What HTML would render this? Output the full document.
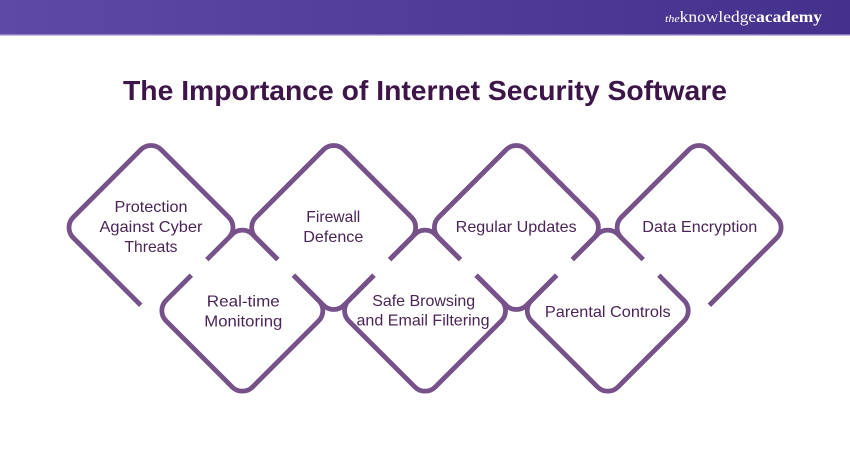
<!DOCTYPE html>
<html>
<head>
<meta charset="utf-8">
<style>
  html, body { margin: 0; padding: 0; background: #ffffff; }
  body { width: 850px; height: 450px; overflow: hidden; }
  svg { display: block; }
</style>
</head>
<body>
<svg width="850" height="450" viewBox="0 0 850 450" xmlns="http://www.w3.org/2000/svg">
  <defs>
    <linearGradient id="hdr" x1="0" y1="0" x2="1" y2="0">
      <stop offset="0" stop-color="#5e49a6"/>
      <stop offset="1" stop-color="#44318c"/>
    </linearGradient>
  </defs>
  <rect x="0" y="0" width="850" height="450" fill="#ffffff"/>
  <!-- header -->
  <rect x="0" y="0" width="850" height="35" fill="url(#hdr)"/>
  <rect x="0" y="34.5" width="850" height="1.5" fill="#c3bbdd"/>
  <text x="665" y="22" fill="#ffffff" font-family="'Liberation Serif', serif" textLength="157" lengthAdjust="spacingAndGlyphs"><tspan font-style="italic" font-size="11">the</tspan><tspan font-size="16">knowledge</tspan><tspan font-size="16" font-weight="bold">academy</tspan></text>

  <!-- title -->
  <text x="425" y="100" text-anchor="middle" fill="#3d1548" font-family="'Liberation Sans', sans-serif" font-weight="bold" font-size="28" textLength="604" lengthAdjust="spacingAndGlyphs">The Importance of Internet Security Software</text>

  <!-- diamonds -->
  <g fill="none" stroke="#77518a" stroke-width="4.8" stroke-linecap="butt" stroke-linejoin="round">
    <!-- P (open, no bottom arc) -->
    <path transform="translate(151,227.5)" d="M -10.25 77.75 L -77.75 10.25 A 14.5 14.5 0 0 1 -77.75 -10.25 L -10.25 -77.75 A 14.5 14.5 0 0 1 10.25 -77.75 L 77.75 -10.25 A 14.5 14.5 0 0 1 77.75 10.25"/>
    <!-- F -->
    <path transform="translate(333.7,227.5)" d="M -10.25 -77.75 A 14.5 14.5 0 0 1 10.25 -77.75 L 77.75 -10.25 A 14.5 14.5 0 0 1 77.75 10.25 L 10.25 77.75 A 14.5 14.5 0 0 1 -10.25 77.75 L -77.75 10.25 A 14.5 14.5 0 0 1 -77.75 -10.25 Z"/>
    <!-- R -->
    <path transform="translate(516.4,227.5)" d="M -10.25 -77.75 A 14.5 14.5 0 0 1 10.25 -77.75 L 77.75 -10.25 A 14.5 14.5 0 0 1 77.75 10.25 L 10.25 77.75 A 14.5 14.5 0 0 1 -10.25 77.75 L -77.75 10.25 A 14.5 14.5 0 0 1 -77.75 -10.25 Z"/>
    <!-- D (open, no bottom arc) -->
    <path transform="translate(699.1,227.5)" d="M -77.75 10.25 A 14.5 14.5 0 0 1 -77.75 -10.25 L -10.25 -77.75 A 14.5 14.5 0 0 1 10.25 -77.75 L 77.75 -10.25 A 14.5 14.5 0 0 1 77.75 10.25 L 10.25 77.75"/>
    <!-- RT -->
    <path transform="translate(242.35,310.65)" d="M -10.25 -76.25 A 14.5 14.5 0 0 1 10.25 -76.25 L 76.25 -10.25 A 14.5 14.5 0 0 1 76.25 10.25 L 10.25 76.25 A 14.5 14.5 0 0 1 -10.25 76.25 L -76.25 10.25 A 14.5 14.5 0 0 1 -76.25 -10.25 Z"/>
    <!-- SB -->
    <path transform="translate(425.05,310.65)" d="M -10.25 -76.25 A 14.5 14.5 0 0 1 10.25 -76.25 L 76.25 -10.25 A 14.5 14.5 0 0 1 76.25 10.25 L 10.25 76.25 A 14.5 14.5 0 0 1 -10.25 76.25 L -76.25 10.25 A 14.5 14.5 0 0 1 -76.25 -10.25 Z"/>
    <!-- PC -->
    <path transform="translate(607.75,310.65)" d="M -10.25 -76.25 A 14.5 14.5 0 0 1 10.25 -76.25 L 76.25 -10.25 A 14.5 14.5 0 0 1 76.25 10.25 L 10.25 76.25 A 14.5 14.5 0 0 1 -10.25 76.25 L -76.25 10.25 A 14.5 14.5 0 0 1 -76.25 -10.25 Z"/>
  </g>

  <!-- gaps on shared edges -->
  <g stroke="#ffffff" stroke-width="10" stroke-linecap="butt">
    <line x1="191.32" y1="275.18" x2="206.88" y2="259.62"/>
    <line x1="277.82" y1="259.62" x2="293.38" y2="275.18"/>
    <line x1="374.02" y1="275.18" x2="389.58" y2="259.62"/>
    <line x1="460.52" y1="259.62" x2="476.08" y2="275.18"/>
    <line x1="556.72" y1="275.18" x2="572.28" y2="259.62"/>
    <line x1="643.22" y1="259.62" x2="658.78" y2="275.18"/>
  </g>

  <!-- labels -->
  <g fill="#4a2456" font-family="'Liberation Sans', sans-serif" font-size="16" text-anchor="middle">
    <text x="151" y="212" textLength="73" lengthAdjust="spacingAndGlyphs">Protection</text>
    <text x="151" y="232" textLength="103" lengthAdjust="spacingAndGlyphs">Against Cyber</text>
    <text x="151" y="252" textLength="53" lengthAdjust="spacingAndGlyphs">Threats</text>

    <text x="333.3" y="222" textLength="54" lengthAdjust="spacingAndGlyphs">Firewall</text>
    <text x="333.3" y="242" textLength="60" lengthAdjust="spacingAndGlyphs">Defence</text>

    <text x="516.2" y="232" textLength="121" lengthAdjust="spacingAndGlyphs">Regular Updates</text>

    <text x="699.8" y="232" textLength="115" lengthAdjust="spacingAndGlyphs">Data Encryption</text>

    <text x="243.3" y="306.5" textLength="73" lengthAdjust="spacingAndGlyphs">Real-time</text>
    <text x="243.3" y="326.5" textLength="78" lengthAdjust="spacingAndGlyphs">Monitoring</text>

    <text x="423.7" y="306" textLength="103" lengthAdjust="spacingAndGlyphs">Safe Browsing</text>
    <text x="423" y="325.5" textLength="133" lengthAdjust="spacingAndGlyphs">and Email Filtering</text>

    <text x="607.8" y="317" textLength="125.7" lengthAdjust="spacingAndGlyphs">Parental Controls</text>
  </g>
</svg>
</body>
</html>
